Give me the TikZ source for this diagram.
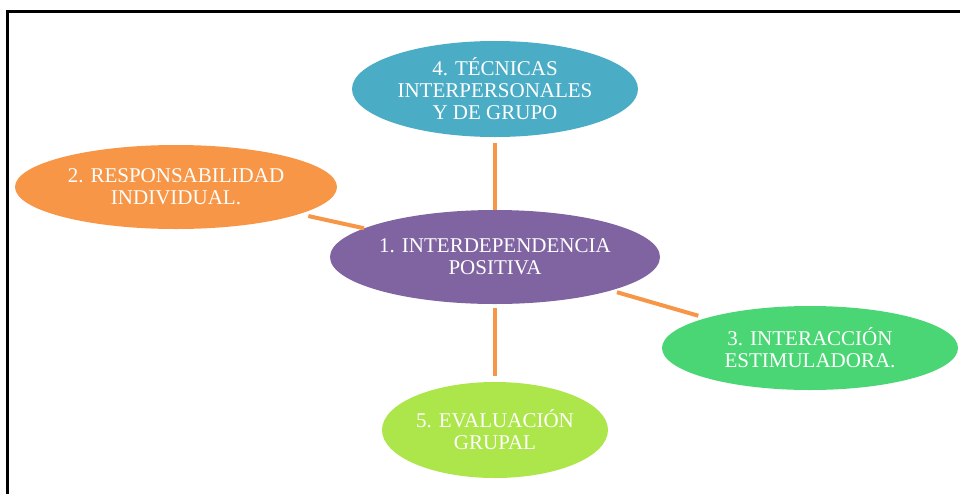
\documentclass[tikz,border=0pt]{standalone}
\usepackage{fontspec}
\setmainfont{Liberation Serif}
\usetikzlibrary{shapes.geometric}
\definecolor{cteal}{HTML}{4BACC6}
\definecolor{corange}{HTML}{F79646}
\definecolor{cpurple}{HTML}{8064A2}
\definecolor{cgreen}{HTML}{4AD674}
\definecolor{clime}{HTML}{ADE64B}
\begin{document}
\begin{tikzpicture}[x=1pt,y=-1pt,
  bubble/.style={ellipse, inner sep=0pt, text=white, align=center,
    font=\fontsize{21}{22}\selectfont},
  link/.style={corange, line width=4pt}]
\useasboundingbox (0,0) rectangle (960,493);
\begin{scope}
\clip (0,0) rectangle (960,493);
\draw[line width=3pt, black] (7.5,500) -- (7.5,11.5) -- (970,11.5);
\node[bubble, fill=cteal, minimum width=286pt, minimum height=96pt] (n4) at (495,89)
  {4. TÉCNICAS\\INTERPERSONALES\\Y DE GRUPO};
\node[bubble, fill=corange, minimum width=322pt, minimum height=84pt] (n2) at (176,187)
  {2. RESPONSABILIDAD\\INDIVIDUAL.};
\node[bubble, fill=cpurple, minimum width=330pt, minimum height=94pt] (n1) at (495,257)
  {1. INTERDEPENDENCIA\\POSITIVA};
\node[bubble, fill=cgreen, minimum width=296pt, minimum height=84pt] (n3) at (810,348)
  {3. INTERACCIÓN\\ESTIMULADORA.};
\node[bubble, fill=clime, minimum width=226pt, minimum height=96pt] (n5) at (495,430)
  {5. EVALUACIÓN\\GRUPAL};
\draw[link, shorten <=6pt] (n4.south) -- (n1.north);
\draw[link, shorten <=4pt, shorten >=6pt] (n1.south) -- (n5.north);
\draw[link, shorten <=9pt] (n2) -- (n1);
\draw[link, shorten <=6pt, shorten >=8pt] (n1) -- (n3);
\end{scope}
\end{tikzpicture}
\end{document}
